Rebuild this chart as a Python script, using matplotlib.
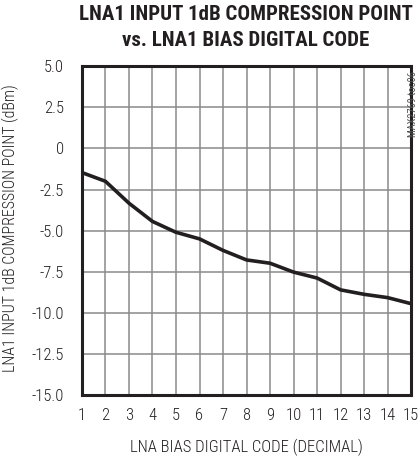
import matplotlib
matplotlib.use("Agg")
import matplotlib.pyplot as plt

codes = [1, 2, 3, 4, 5, 6, 7, 8, 9, 10, 11, 12, 13, 14, 15]
p1db = [-1.47, -2.0, -3.33, -4.44, -5.1, -5.5, -6.2, -6.78, -6.98, -7.52, -7.88, -8.6, -8.87, -9.07, -9.44]
yticks = [5.0, 2.5, 0, -2.5, -5.0, -7.5, -10.0, -12.5, -15.0]
ytick_labels = ["5.0", "2.5", "0", "-2.5", "-5.0", "-7.5", "-10.0", "-12.5", "-15.0"]

FONT = ["Roboto Condensed", "DejaVu Sans"]
INK = "#231f20"

fig = plt.figure(figsize=(4.2, 4.59), dpi=100)
ax = fig.add_axes([0.195, 0.139, 0.784, 0.717])

ax.plot(codes, p1db, color=INK, lw=2.6, solid_joinstyle="round", solid_capstyle="butt", zorder=3)
ax.set_xlim(1, 15)
ax.set_ylim(-15, 5)
ax.set_xticks(codes)
ax.set_yticks(yticks)
ax.set_yticklabels(ytick_labels)
ax.grid(True, color="#8a8a8a", lw=1.1)
ax.tick_params(axis="y", length=0, labelsize=12, colors=INK, pad=13)
ax.tick_params(axis="x", length=0, labelsize=12, colors=INK, pad=9.5)
for lab in ax.get_xticklabels() + ax.get_yticklabels():
    lab.set_family(FONT)
    lab.set_fontweight("light")
for s in ax.spines.values():
    s.set_linewidth(2.2)
    s.set_color(INK)

ax.set_xlabel("LNA BIAS DIGITAL CODE (DECIMAL)", fontsize=12, family=FONT, fontweight="light",
              color=INK)
ax.xaxis.set_label_coords(0.5, -0.134)
ax.set_ylabel("LNA1 INPUT 1dB COMPRESSION POINT (dBm)", fontsize=11.4, family=FONT, fontweight="light",
              color=INK)
ax.yaxis.set_label_coords(-0.19, 0.508)

fig.text(0.586, 0.969, "LNA1 INPUT 1dB COMPRESSION POINT", ha="center", va="center",
         fontsize=15, fontweight="black", family=FONT, color=INK)
fig.text(0.586, 0.912, "vs. LNA1 BIAS DIGITAL CODE", ha="center", va="center",
         fontsize=15, fontweight="black", family=FONT, color=INK)
fig.text(0.984, 0.773, "MAX2769 toc06", rotation=90, ha="center", va="center",
         fontsize=7.5, color="#555555", family=FONT)

fig.savefig("out.png", dpi=100)
